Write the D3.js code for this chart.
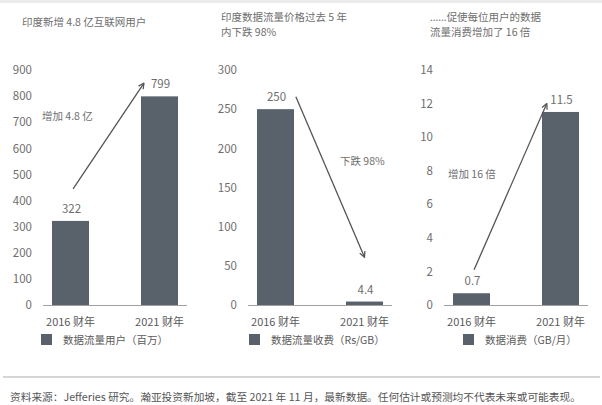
<!DOCTYPE html>
<meta charset="utf-8">
<style>
  body { margin: 0; background: #fff; }
  text { font-family: "Noto Sans CJK SC", "Noto Sans", sans-serif; }
</style>
<body>
  <svg width="602" height="405"></svg>

  <script src="https://cdnjs.cloudflare.com/ajax/libs/d3/7.8.5/d3.min.js"></script>
  <script>

    // data
    var categories = ['2016 财年', '2021 财年']

    var usersValues = [322, 799]
    var priceValues = [250, 4.4]
    var consumptionValues = [0.7, 11.5]

    var usersTicks = [0, 100, 200, 300, 400, 500, 600, 700, 800, 900]
    var priceTicks = [0, 50, 100, 150, 200, 250, 300]
    var consumptionTicks = [0, 2, 4, 6, 8, 10, 12, 14]

    var titles = [
      ['印度新增 4.8 亿互联网用户'],
      ['印度数据流量价格过去 5 年', '内下跌 98%'],
      ['……促使每位用户的数据', '流量消费增加了 16 倍']
    ]
    var legends = ['数据流量用户（百万）', '数据流量收费（Rs/GB）', '数据消费（GB/月）']
    var annotations = ['增加 4.8 亿', '下跌 98%', '增加 16 倍']
    var valueLabels = [['322', '799'], ['250', '4.4'], ['0.7', '11.5']]

    // arrow ends in data units: [value at start, value at end]
    var arrowValues = [[445, 850], [266, 61], [2.1, 12.0]]

    var source = '资料来源：Jefferies 研究。瀚亚投资新加坡，截至 2021 年 11 月，最新数据。任何估计或预测均不代表未来或可能表现。'

    var barColor = '#59616a'
    var textColor = '#6e6e6e'

    var svg = d3.select('svg')

    // faint band at the top edge
    svg.append('rect').attr('x', 0).attr('y', 0).attr('width', 602).attr('height', 3).attr('fill', '#ececec')

    svg.append('defs').append('marker')
      .attr('id', 'head')
      .attr('viewBox', '0 0 10 10')
      .attr('refX', 9).attr('refY', 5)
      .attr('markerWidth', 7).attr('markerHeight', 7)
      .attr('markerUnits', 'userSpaceOnUse')
      .attr('orient', 'auto')
      .append('path')
      .attr('d', 'M1,1 L9,5 L1,9')
      .attr('fill', 'none')
      .attr('stroke', '#555')
      .attr('stroke-width', 1.8)

    var panels = [
      { x0: 43, values: usersValues, ticks: usersTicks, max: 900,
        titleX: 22, titleY: 26, legendX: 41, noteX: 42, noteY: 120,
        arrow: [[0, 0.57], [1, 0.08]] },
      { x0: 248, values: priceValues, ticks: priceTicks, max: 300,
        titleX: 221, titleY: 21, legendX: 249, noteX: 340, noteY: 165,
        arrow: [[0, 1.05], [1, 0.5]] },
      { x0: 444, values: consumptionValues, ticks: consumptionTicks, max: 14,
        titleX: 430, titleY: 21, legendX: 463, noteX: 448, noteY: 178,
        arrow: [[0, 0.57], [1, 0.13]] }
    ]

    panels.forEach(function (p, k) {

      var x = d3.scaleBand()
        .domain(categories)
        .range([p.x0, p.x0 + 144])
        .paddingInner(0.584)
        .paddingOuter(0.101)

      var y = d3.scaleLinear()
        .domain([0, p.max])
        .range([305, 70])

      var g = svg.append('g')

      // title (the ellipsis sits on the baseline like in the original)
      var t = g.append('text')
        .attr('x', p.titleX)
        .attr('y', p.titleY)
        .style('font-size', '10.5px')
        .attr('fill', textColor)
      titles[k].forEach(function (line, i) {
        var ts = t.append('tspan').attr('x', p.titleX).attr('dy', i == 0 ? 0 : 15)
        if (line.startsWith('……')) {
          ts.append('tspan').style('font-family', '"Noto Sans", sans-serif').text('……')
          ts.append('tspan').text(line.slice(2))
        } else {
          ts.text(line)
        }
      })

      // y axis
      var yAxis = g.append('g')
        .attr('transform', 'translate(' + p.x0 + ',0)')
        .call(d3.axisLeft(y).tickValues(p.ticks).tickSize(0).tickPadding(11))
      yAxis.select('.domain').remove()
      yAxis.selectAll('text')
        .style('font-size', '11.5px')
        .style('font-family', '"Noto Sans CJK SC", "Noto Sans", sans-serif')
        .attr('fill', textColor)

      // bars
      g.selectAll('rect.bar')
        .data(p.values)
        .join('rect')
        .attr('class', 'bar')
        .attr('x', (d, i) => x(categories[i]))
        .attr('width', x.bandwidth())
        .attr('y', d => y(d))
        .attr('height', d => y(0) - y(d))
        .attr('fill', barColor)

      // baseline
      g.append('line')
        .attr('x1', p.x0).attr('x2', p.x0 + 144)
        .attr('y1', y(0) + 0.5).attr('y2', y(0) + 0.5)
        .attr('stroke', '#a0a0a0')
        .attr('stroke-width', 1.2)

      // value labels
      g.selectAll('text.value')
        .data(p.values)
        .join('text')
        .attr('class', 'value')
        .attr('x', (d, i) => x(categories[i]) + x.bandwidth() / 2 + 1)
        .attr('y', d => y(d) - 8)
        .attr('text-anchor', 'middle')
        .style('font-size', '11.5px')
        .attr('fill', textColor)
        .text((d, i) => valueLabels[k][i])

      // category labels
      g.selectAll('text.cat')
        .data(categories)
        .join('text')
        .attr('class', 'cat')
        .attr('x', d => x(d) + x.bandwidth() / 2)
        .attr('y', 326)
        .attr('text-anchor', 'middle')
        .style('font-size', '11px')
        .attr('fill', '#5a5a5a')
        .text(d => d)

      // legend
      g.append('rect')
        .attr('x', p.legendX).attr('y', 334)
        .attr('width', 11).attr('height', 11)
        .attr('fill', barColor)
      g.append('text')
        .attr('x', p.legendX + 22).attr('y', 344)
        .style('font-size', '10.5px')
        .attr('fill', '#5a5a5a')
        .text(legends[k])

      // arrow
      var a = p.arrow
      g.append('line')
        .attr('x1', x(categories[a[0][0]]) + x.bandwidth() * a[0][1])
        .attr('y1', y(arrowValues[k][0]))
        .attr('x2', x(categories[a[1][0]]) + x.bandwidth() * a[1][1])
        .attr('y2', y(arrowValues[k][1]))
        .attr('stroke', '#555')
        .attr('stroke-width', 1.3)
        .attr('marker-end', 'url(#head)')

      // annotation
      g.append('text')
        .attr('x', p.noteX).attr('y', p.noteY)
        .style('font-size', '10.5px')
        .attr('fill', textColor)
        .text(annotations[k])
    })

    // footer
    svg.append('line')
      .attr('x1', 3).attr('x2', 600)
      .attr('y1', 377).attr('y2', 377)
      .attr('stroke', '#c8c8c8')
      .attr('stroke-width', 1.5)

    svg.append('text')
      .attr('x', 10).attr('y', 401)
      .style('font-size', '10.7px')
      .attr('fill', '#555')
      .text(source)

  </script>
</body>
